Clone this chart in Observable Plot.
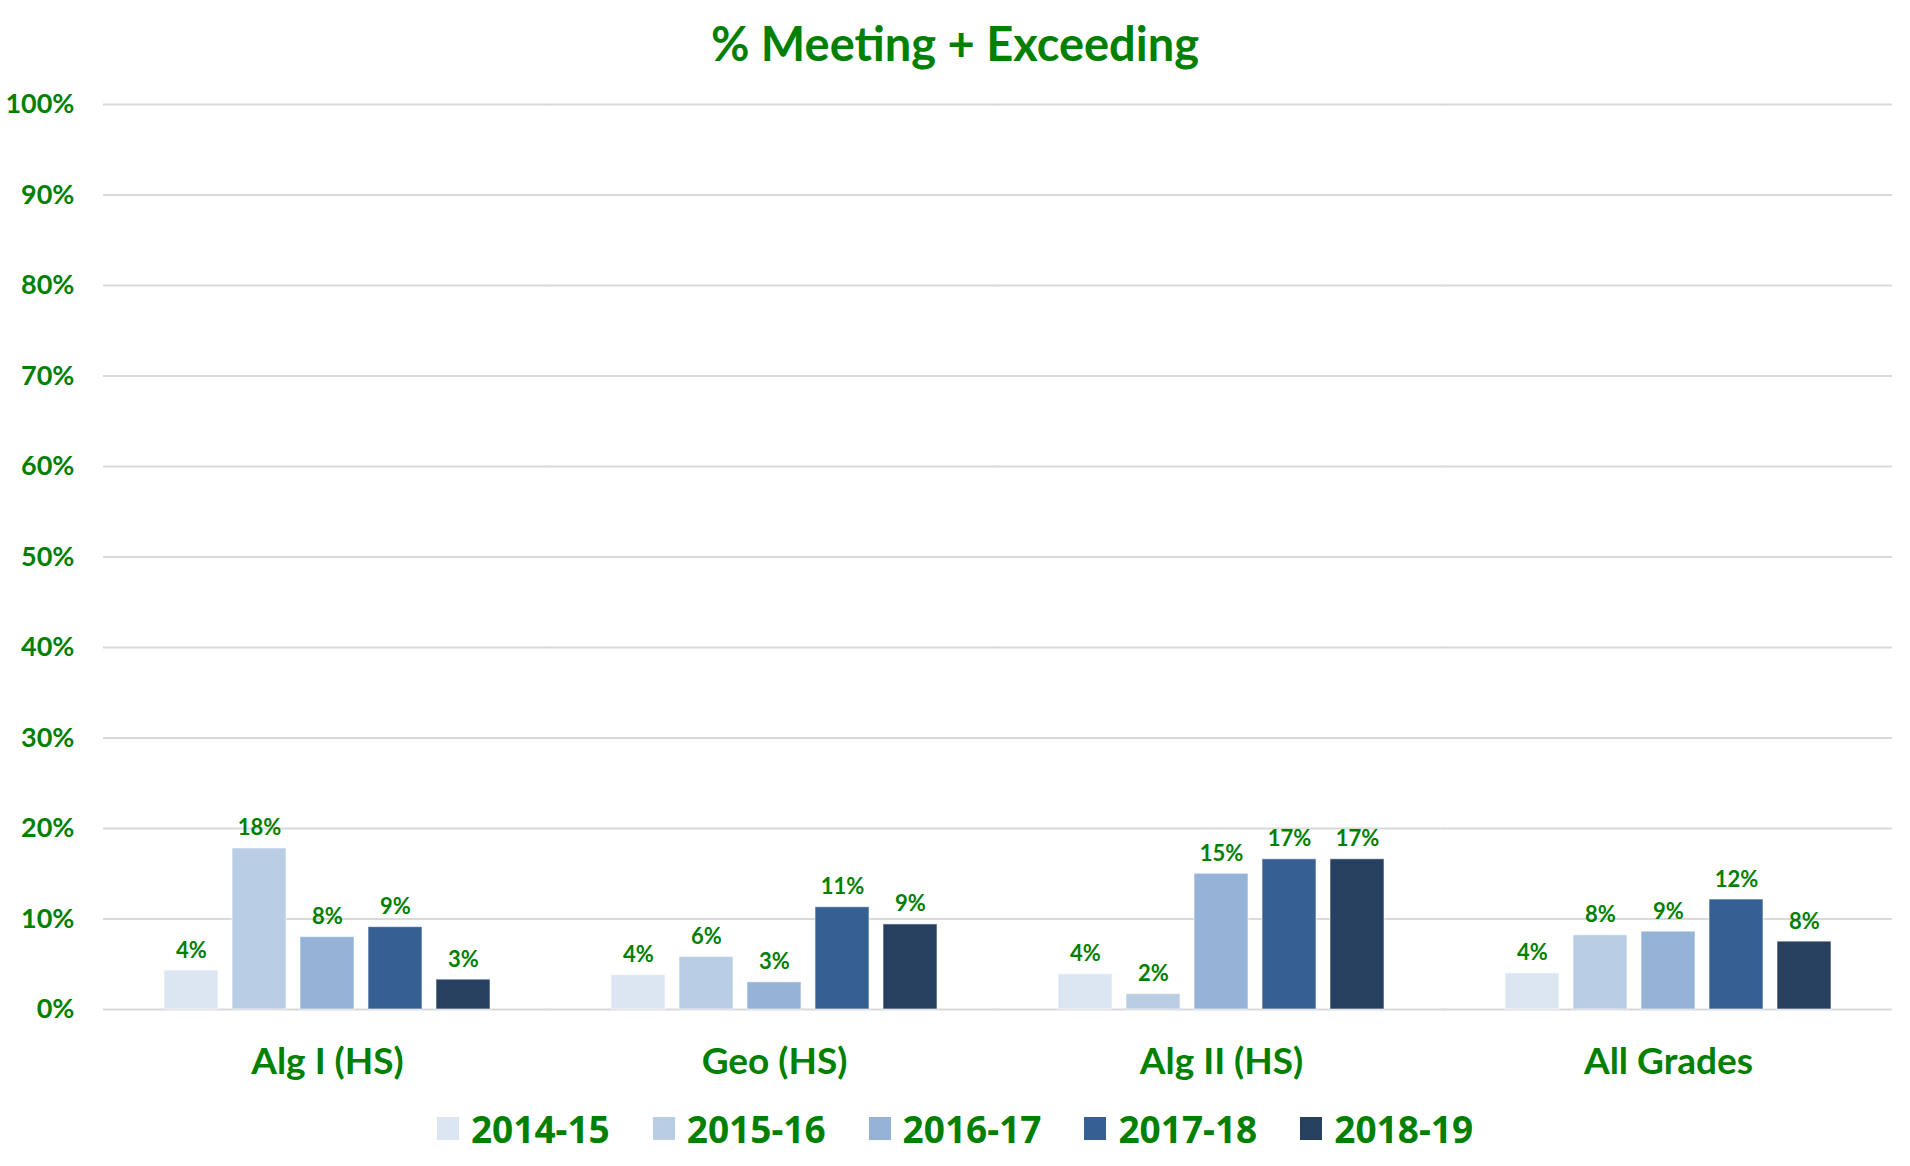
<!DOCTYPE html>
<html>
<head>
<meta charset="utf-8">
<script src="https://cdn.jsdelivr.net/npm/d3@7"></script>
<script src="https://cdn.jsdelivr.net/npm/@observablehq/plot@0.6"></script>
<style>
  html, body { margin: 0; padding: 0; background: #fff; }
  body { width: 1910px; height: 1166px; font-family: Lato, "Open Sans", sans-serif; font-weight: bold; color: #008000; overflow: hidden; }
  #title { height: 80px; line-height: 80px; padding-top: 3px; box-sizing: border-box; text-align: center; font-size: 47px; font-weight: bold; }
  #chart svg { display: block; }
  #legend { height: 76px; display: flex; align-items: center; justify-content: center; }
  #legend .lg-swatches { margin: 0; }
  #legend .lg-swatch { margin-right: 43px !important; font-size: 37px; font-weight: bold; color: #008000; }
  #legend .lg-swatch:last-child { margin-right: 0 !important; }
  #legend .lg-swatch > svg { margin-right: 12px !important; }
</style>
</head>
<body>
<div id="title">% Meeting + Exceeding</div>
<div id="chart"></div>
<div id="legend"></div>
<script>
const categories = ["Alg I (HS)", "Geo (HS)", "Alg II (HS)", "All Grades"];
const years = ["2014-15", "2015-16", "2016-17", "2017-18", "2018-19"];
const colors = ["#DCE6F2", "#B9CDE5", "#95B3D7", "#376092", "#27405F"];
const algI = [0.043, 0.178, 0.080, 0.091, 0.033];
const geo = [0.038, 0.058, 0.030, 0.113, 0.094];
const algII = [0.039, 0.017, 0.150, 0.166, 0.166];
const allGrades = [0.040, 0.082, 0.086, 0.1215, 0.075];
const yTicks = [0, 0.1, 0.2, 0.3, 0.4, 0.5, 0.6, 0.7, 0.8, 0.9, 1.0];

const series = [algI, geo, algII, allGrades];
const data = categories.flatMap((c, i) => years.map((y, j) => ({category: c, year: y, value: series[i][j]})));

const green = "#008000";
const pct = d3.format(".0%");

const chart = Plot.plot({
  width: 1910,
  height: 1010,
  marginLeft: 103,
  marginRight: 18,
  marginTop: 24,
  marginBottom: 81,
  style: {fontFamily: "Lato, 'Open Sans', sans-serif", fontWeight: "bold", color: green, background: "white"},
  fx: {domain: categories, paddingInner: 0.23, paddingOuter: 0.115, label: null},
  x: {domain: years, paddingInner: 0.21, paddingOuter: 0.105, axis: null},
  y: {domain: [0, 1], axis: null, label: null},
  color: {domain: years, range: colors},
  marks: [
    Plot.ruleY(yTicks, {y: d => d, stroke: "#D9D9D9", strokeWidth: 2, insetLeft: -52, insetRight: -52}),
    Plot.barY(data, {fx: "category", x: "year", y: "value", fill: "year", stroke: "#ffffff", strokeOpacity: 0.6, strokeWidth: 1}),
    Plot.text(data, {fx: "category", x: "year", y: "value", text: d => pct(d.value), dy: -13, lineAnchor: "bottom", fill: green, fontSize: 22, fontWeight: "bold"}),
    Plot.axisY(yTicks, {anchor: "left", tickSize: 0, tickPadding: 81, tickFormat: pct, fontSize: 27, fontWeight: "bold", fill: green, label: null}),
    Plot.axisFx({anchor: "bottom", tickSize: 0, tickPadding: 38, fontSize: 37, fontWeight: "bold", fill: green, label: null})
  ]
});
document.getElementById("chart").appendChild(chart);

const legend = Plot.legend({
  color: {domain: years, range: colors},
  swatchWidth: 22,
  swatchHeight: 23,
  className: "lg"
});
document.getElementById("legend").appendChild(legend);
</script>
</body>
</html>
